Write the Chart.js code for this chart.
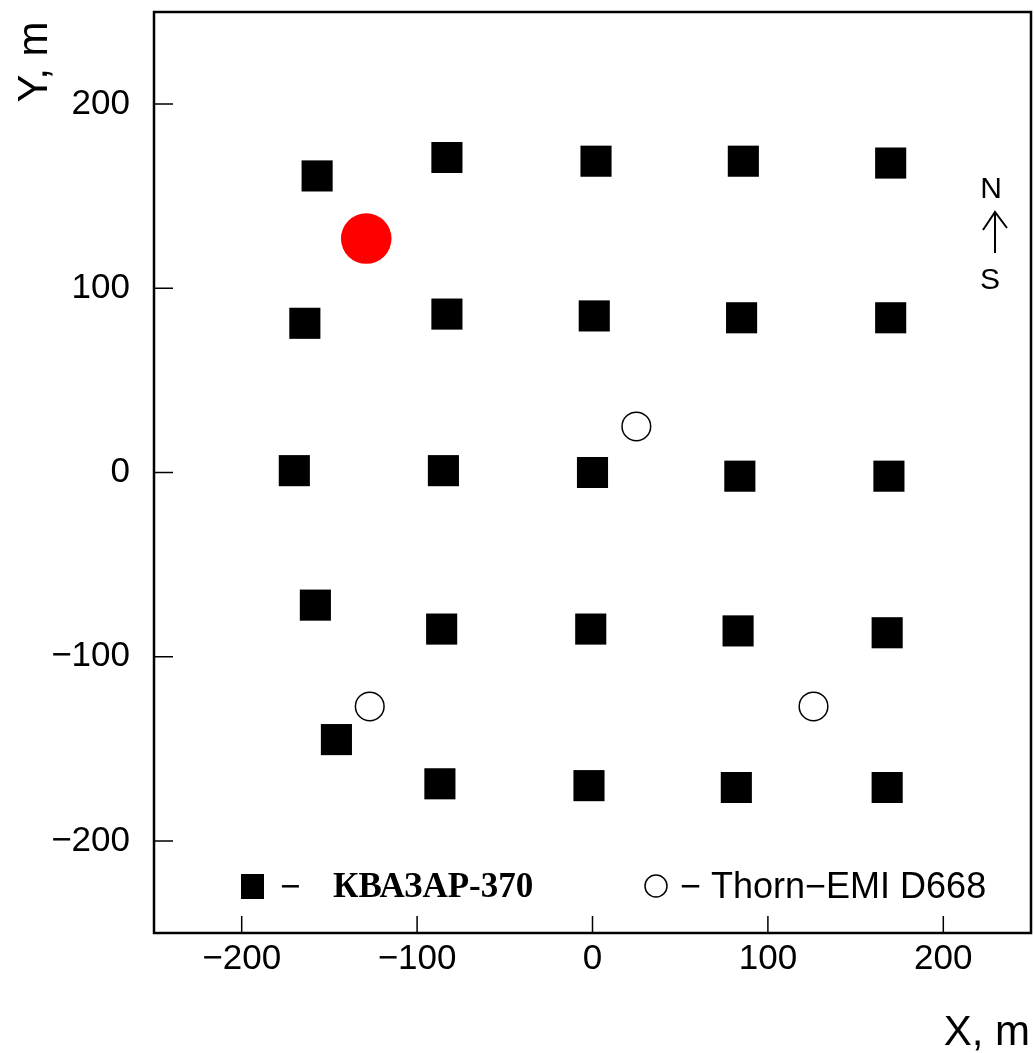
<!DOCTYPE html>
<html>
<head>
<meta charset="utf-8">
<script src="https://cdn.jsdelivr.net/npm/chart.js@4/dist/chart.umd.min.js"></script>
<style>
  body { margin: 0; background: #fff; }
  #detectores { display: block; }
</style>
</head>
<body>
<canvas id="detectores" width="1034" height="1053"></canvas>
<script>
// Coordenadas dos detectores, em metros
const kvazarX = [-157, -83, 2, 86, 170,
                 -164, -83, 1, 85, 170,
                 -170, -85, 0, 84, 169,
                 -158, -86, -1, 83, 168,
                 -146, -87, -2, 82, 168];
const kvazarY = [161, 171, 169, 169, 168,
                 81, 86, 85, 84, 84,
                 1, 1, 0, -2, -2,
                 -72, -85, -85, -86, -87,
                 -145, -169, -170, -171, -171];
const thornX = [25, -127, 126];
const thornY = [25, -127, -127];
const centroX = [-129];
const centroY = [127];

const ticksX = [-200, -100, 0, 100, 200];
const ticksY = [-200, -100, 0, 100, 200];

const legendaKvazar = 'КВАЗАР-370';
const legendaThorn = '− Thorn−EMI D668';
const tituloX = 'X, m';
const tituloY = 'Y, m';

const pontos = (xs, ys) => xs.map((x, i) => ({ x: x, y: ys[i] }));
const comMenos = v => (v < 0 ? '−' + Math.abs(v) : String(v));

const fonteTicks = { family: 'Liberation Sans', size: 35 };

// moldura, ticks para dentro, legenda e indicação N/S
const moldura = {
    id: 'moldura',
    afterDraw(chart) {
        const ctx = chart.ctx;
        const a = chart.chartArea;
        const sx = chart.scales.x;
        const sy = chart.scales.y;
        ctx.save();
        ctx.strokeStyle = '#000';
        ctx.fillStyle = '#000';

        ctx.lineWidth = 2.5;
        ctx.strokeRect(a.left, a.top, a.right - a.left, a.bottom - a.top);

        ctx.lineWidth = 1.5;
        ctx.beginPath();
        sx.ticks.forEach(t => {
            const px = sx.getPixelForValue(t.value);
            ctx.moveTo(px, a.bottom);
            ctx.lineTo(px, a.bottom - 17);
        });
        sy.ticks.forEach(t => {
            const py = sy.getPixelForValue(t.value);
            ctx.moveTo(a.left, py);
            ctx.lineTo(a.left + 19, py);
        });
        ctx.stroke();

        // legenda
        ctx.fillRect(241, 874, 23, 25);
        ctx.font = '35px "Liberation Sans"';
        ctx.textAlign = 'left';
        ctx.textBaseline = 'alphabetic';
        ctx.fillText('−', 280, 898);
        ctx.font = 'bold 35px "Liberation Serif"';
        ctx.fillText(legendaKvazar, 333, 897);

        ctx.beginPath();
        ctx.arc(656, 886, 11, 0, Math.PI * 2);
        ctx.stroke();
        ctx.font = '36px "Liberation Sans"';
        ctx.fillText(legendaThorn, 680, 898);

        // N / S
        ctx.font = '30px "Liberation Sans"';
        ctx.textAlign = 'center';
        ctx.fillText('N', 991, 198);
        ctx.fillText('S', 990, 289);
        ctx.lineWidth = 2;
        ctx.beginPath();
        ctx.moveTo(995, 253);
        ctx.lineTo(995, 213);
        ctx.moveTo(983, 230);
        ctx.lineTo(995, 212);
        ctx.lineTo(1007, 228);
        ctx.stroke();

        // títulos dos eixos
        ctx.font = '42px "Liberation Sans"';
        ctx.textAlign = 'right';
        ctx.fillText(tituloX, 1030, 1045);
        ctx.translate(47, 62);
        ctx.rotate(-Math.PI / 2);
        ctx.textAlign = 'center';
        ctx.fillText(tituloY, 0, 0);
        ctx.restore();
    }
};

const grafico = new Chart(
    document.getElementById('detectores'),
    {
        type: 'scatter',
        data: {
            datasets: [
                {
                    label: legendaKvazar,
                    data: pontos(kvazarX, kvazarY),
                    pointStyle: 'rect',
                    pointRadius: 22,
                    backgroundColor: '#000',
                    borderWidth: 0
                },
                {
                    label: 'Thorn-EMI D668',
                    data: pontos(thornX, thornY),
                    pointStyle: 'circle',
                    pointRadius: 14.3,
                    backgroundColor: 'rgba(255,255,255,0)',
                    borderColor: '#000',
                    borderWidth: 1.5
                },
                {
                    label: 'centro',
                    data: pontos(centroX, centroY),
                    pointStyle: 'circle',
                    pointRadius: 25.3,
                    backgroundColor: '#ff0000',
                    borderWidth: 0
                }
            ]
        },
        options: {
            responsive: false,
            animation: false,
            events: [],
            layout: { autoPadding: false, padding: { top: 12, right: 3, left: 0, bottom: 0 } },
            plugins: {
                legend: { display: false },
                tooltip: { enabled: false }
            },
            scales: {
                x: {
                    type: 'linear',
                    min: -250,
                    max: 250,
                    afterBuildTicks: s => { s.ticks = ticksX.map(v => ({ value: v })); },
                    afterFit: s => { s.height = 120; s.paddingLeft = 0; s.paddingRight = 0; },
                    grid: { display: false, drawTicks: false },
                    border: { display: false },
                    ticks: { padding: 5, color: '#000', font: fonteTicks, maxRotation: 0, callback: comMenos }
                },
                y: {
                    type: 'linear',
                    min: -250,
                    max: 250,
                    afterBuildTicks: s => { s.ticks = ticksY.map(v => ({ value: v })); },
                    afterFit: s => { s.width = 154; s.paddingTop = 0; s.paddingBottom = 0; },
                    grid: { display: false, drawTicks: false },
                    border: { display: false },
                    ticks: { padding: 24, color: '#000', font: fonteTicks, callback: comMenos }
                }
            }
        },
        plugins: [moldura]
    }
);
</script>
</body>
</html>
